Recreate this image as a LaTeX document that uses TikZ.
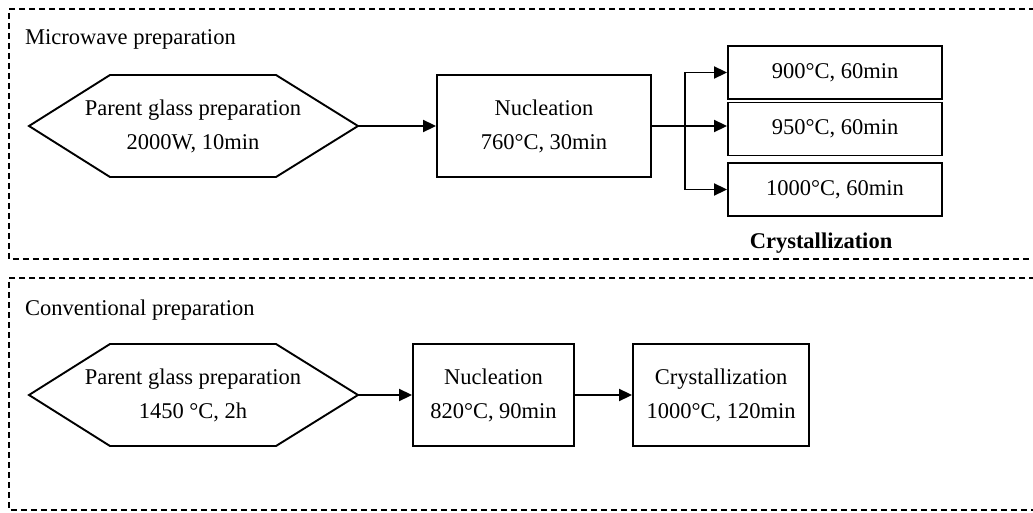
\documentclass[tikz,border=0pt]{standalone}
\usepackage{fontspec}
\setmainfont{Liberation Serif}
\usetikzlibrary{arrows.meta,calc}

\tikzset{
  frame/.style={line width=1.5pt, dash pattern=on 6pt off 4pt},
  stepbox/.style={draw, line width=1.9pt, rectangle, inner sep=0pt, align=center},
  hexline/.style={draw, line width=1.9pt, line join=miter},
  label/.style={inner sep=0pt, align=center},
  arr/.style={line width=1.9pt, -{Triangle[length=13pt,width=12pt]}},
  txt/.style={font=\fontsize{22.5}{34}\selectfont}
}

\begin{document}
\begin{tikzpicture}[x=1pt,y=-1pt, every node/.style={txt}]
\useasboundingbox (0,0) rectangle (1033,513);

% dashed frames, open on the right
\draw[frame] (1045,9) -- (9,9) -- (9,259) -- (1045,259);
\draw[frame] (1045,278) -- (9,278) -- (9,510) -- (1045,510);

% ---- microwave route ----
\node[anchor=base west, inner sep=0pt] (mwtitle) at (25,45) {Microwave preparation};

\draw[hexline] (29,126) -- (110,75) -- (276,75) -- (358,126) -- (276,177) -- (110,177) -- cycle;
\coordinate (hexAtip) at (358,126);
\node[label] (hexA) at (193,126) {Parent glass preparation\\2000W, 10min};

\node[stepbox, minimum width=214pt, minimum height=102pt] (nucA) at (544,126) {Nucleation\\760°C, 30min};

\node[stepbox, minimum width=214pt, minimum height=53pt] (c1) at (835,72.5) {900°C, 60min};
\node[stepbox, minimum width=214pt, minimum height=53pt] (c2) at (835,129) {950°C, 60min};
\node[stepbox, minimum width=214pt, minimum height=53pt] (c3) at (835,189.5) {1000°C, 60min};
\node[label, font=\fontsize{22.5}{34}\selectfont\bfseries] (cryslab) at (821,243) {Crystallization};

\draw[arr] (hexAtip) -- (nucA.west);
\coordinate (split) at (685,126);
\draw[arr] (nucA.east) -- (nucA.east -| c2.west);
\draw[arr] (split) |- (c1.west);
\draw[arr] (split) |- (c3.west);

% ---- conventional route ----
\node[anchor=base west, inner sep=0pt] (cvtitle) at (25,315) {Conventional preparation};

\draw[hexline] (29,395) -- (110,344) -- (276,344) -- (358,395) -- (276,446) -- (110,446) -- cycle;
\coordinate (hexBtip) at (358,395);
\node[label] (hexB) at (193,395) {Parent glass preparation\\1450 °C, 2h};

\node[stepbox, minimum width=161pt, minimum height=102pt] (nucB) at (493.5,395) {Nucleation\\820°C, 90min};
\node[stepbox, minimum width=176pt, minimum height=102pt] (crysB) at (721,395) {Crystallization\\1000°C, 120min};

\draw[arr] (hexBtip) -- (nucB.west);
\draw[arr] (nucB.east) -- (crysB.west);
\end{tikzpicture}
\end{document}
